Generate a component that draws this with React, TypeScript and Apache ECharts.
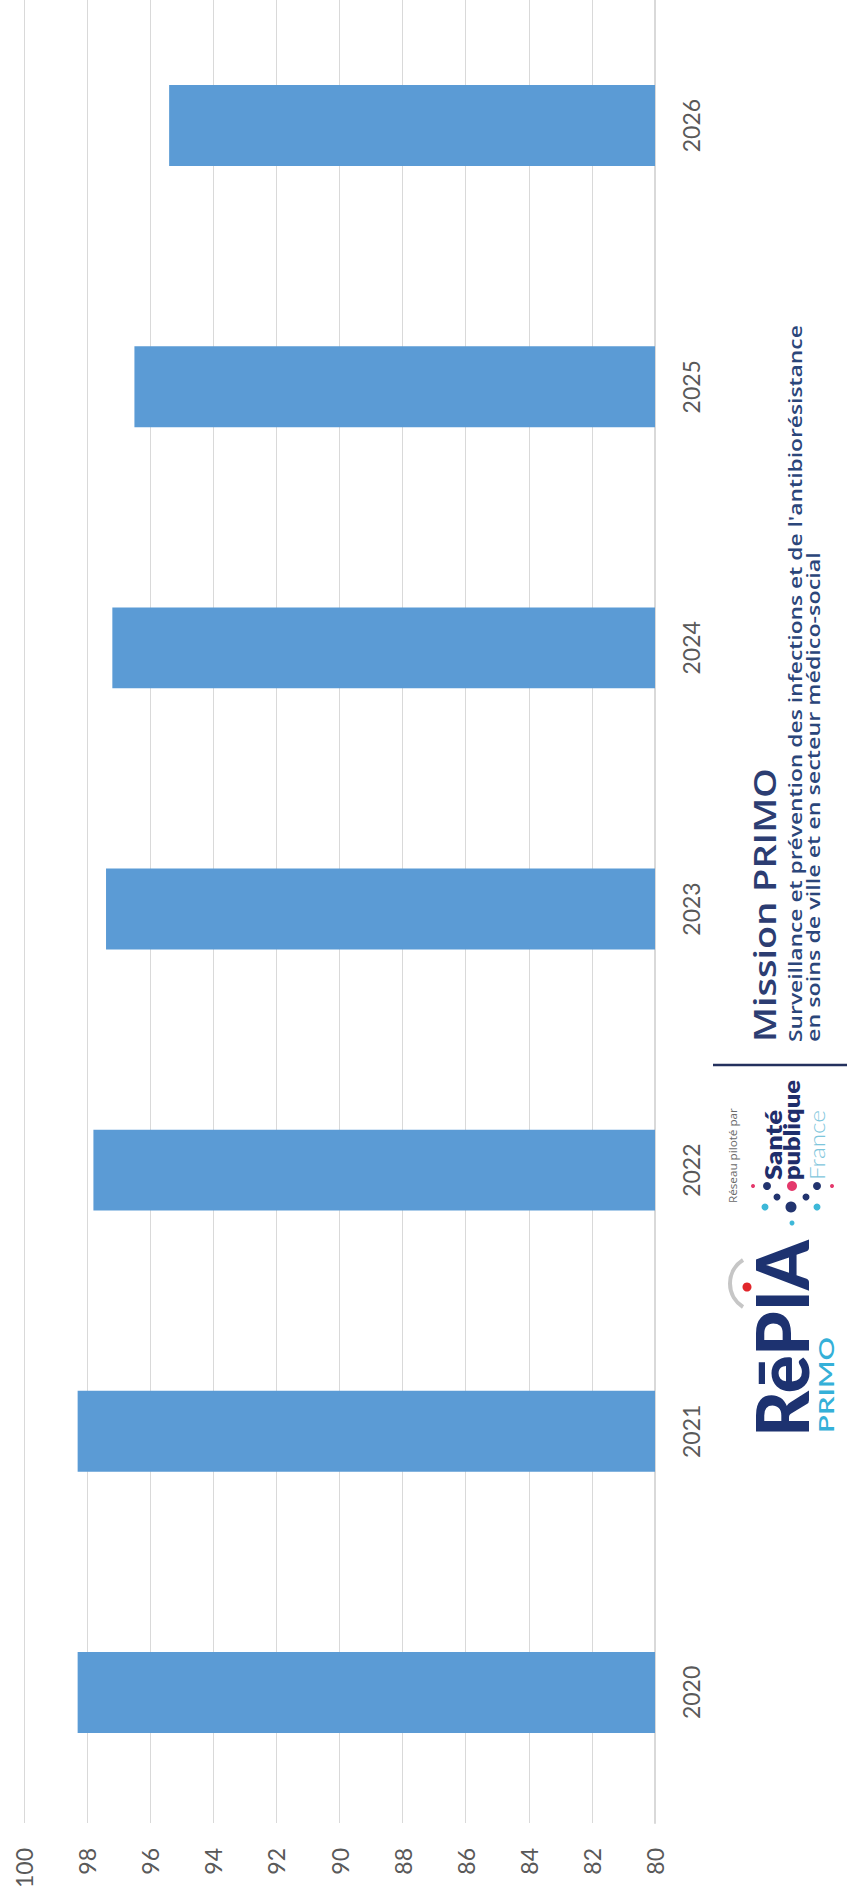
import React, { useEffect, useRef } from "react";
import * as echarts from "echarts";

const years = ["2020", "2021", "2022", "2023", "2024", "2025", "2026"];
const rates = [98.3, 98.3, 97.8, 97.4, 97.2, 96.5, 95.4];
const axisMin = 80;
const axisMax = 100;
const axisStep = 2;

const LABEL_FONT = "Lato";

function measure(text: string, font: string): number {
  const c = document.createElement("canvas");
  const ctx = c.getContext("2d");
  if (!ctx) return 100;
  ctx.font = font;
  return ctx.measureText(text).width || 100;
}

function vText(text: string, font: string, fill: string, x: number, yStart: number, length: number) {
  const w = measure(text, font);
  return {
    type: "text",
    x,
    y: yStart,
    rotation: Math.PI / 2,
    scaleX: length / w,
    silent: true,
    style: {
      text,
      font,
      fill,
      align: "left",
      verticalAlign: "middle",
      textAlign: "left",
      textVerticalAlign: "middle",
    },
  };
}

function dot(cx: number, cy: number, r: number, fill: string) {
  return { type: "circle", shape: { cx, cy, r }, style: { fill }, silent: true };
}

export default function App() {
  const ref = useRef<HTMLDivElement>(null);
  useEffect(() => {
    if (!ref.current) return;
    const chart = echarts.init(ref.current, undefined, { renderer: "svg" });
    const navy = "#1d3270";
    const logo: any[] = [
      { type: "line", shape: { x1: 713, y1: 1065, x2: 847, y2: 1065 }, style: { stroke: "#24315e", lineWidth: 2.5 }, silent: true },
      vText("Mission PRIMO", "600 30px 'Open Sans'", "#2c3d72", 764, 1042, 274),
      vText("Surveillance et prévention des infections et de l'antibiorésistance", "600 18px 'Open Sans'", "#2b467a", 795, 1042, 717),
      vText("en soins de ville et en secteur médico-social", "600 18px 'Open Sans'", "#2b467a", 813, 1042, 490),
      vText("Réseau piloté par", "11px 'Open Sans'", "#6a6a6a", 733, 1203, 95),
      vText("Santé", "800 22px Lato", "#1f2e6b", 773, 1180, 70),
      vText("publique", "800 22px Lato", "#1f2e6b", 792, 1180, 100),
      vText("France", "300 21px Lato", "#7ec6dc", 817, 1180, 70),
      dot(753, 1186, 2, "#e4386b"),
      dot(767, 1186, 4, "#22346f"),
      dot(792, 1186, 5, "#e4386b"),
      dot(817, 1186, 4, "#22346f"),
      dot(832, 1186, 2, "#e4386b"),
      dot(777, 1197, 3.5, "#22346f"),
      dot(806, 1197, 3.5, "#22346f"),
      dot(765, 1207, 3.5, "#3db8d8"),
      dot(791, 1207, 5.5, "#22346f"),
      dot(817, 1207, 3.5, "#3db8d8"),
      dot(792, 1223, 2.5, "#3db8d8"),
      vText("RēPIA", "900 72px Lato", navy, 781, 1437, 197),
      vText("PRIMO", "600 21px Lato", "#35b0d8", 826, 1433, 96),
      {
        type: "arc",
        shape: { cx: 757.7, cy: 1283.5, r: 27.7, startAngle: (122 * Math.PI) / 180, endAngle: (238 * Math.PI) / 180, clockwise: true },
        style: { stroke: "#c6c6c6", lineWidth: 4, fill: "none" },
        silent: true,
      },
      dot(747, 1287, 4.5, "#e1262b"),
    ];

    chart.setOption({
      animation: false,
      grid: { left: 24, right: 192, top: 0, bottom: 81, outerBoundsMode: "none", containLabel: false },
      xAxis: {
        type: "value",
        min: axisMin,
        max: axisMax,
        interval: axisStep,
        startValue: axisMin,
        inverse: true,
        position: "bottom",
        axisLine: { show: false },
        axisTick: { show: false },
        splitLine: { show: true, lineStyle: { color: "#d9d9d9", width: 1 } },
        axisLabel: { rotate: 90, margin: 25, color: "#595959", fontSize: 23, fontFamily: LABEL_FONT },
      },
      yAxis: {
        type: "category",
        data: years,
        position: "right",
        axisLine: { show: true, lineStyle: { color: "#d9d9d9", width: 2 } },
        axisTick: { show: false },
        splitLine: { show: false },
        axisLabel: { rotate: 90, margin: 24, color: "#595959", fontSize: 23, fontFamily: LABEL_FONT },
      },
      series: [
        {
          type: "bar",
          data: rates,
          barWidth: "31%",
          clip: true,
          itemStyle: { color: "#5b9bd5" },
        },
      ],
      graphic: { elements: logo.map((e) => ({ ...e, y: e.y !== undefined ? e.y + 5 : undefined, shape: e.shape && e.type === "line" ? { ...e.shape, y1: e.shape.y1 + 5, y2: e.shape.y2 + 5 } : e.shape && (e.type === "circle" || e.type === "arc") ? { ...e.shape, cy: e.shape.cy + 5 } : e.shape })) },
    });
    return () => chart.dispose();
  }, []);
  return (
    <div
      ref={ref}
      style={{ position: "absolute", left: 0, top: -5, width: 847, height: 1909, background: "#ffffff" }}
    />
  );
}
